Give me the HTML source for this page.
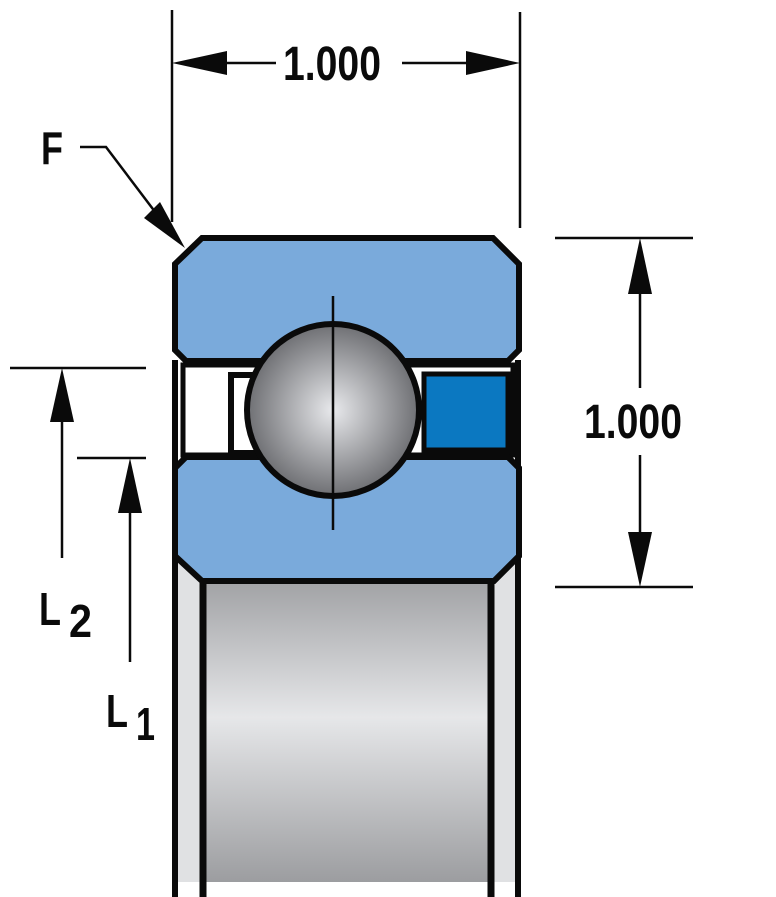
<!DOCTYPE html>
<html><head><meta charset="utf-8"><style>html,body{margin:0;padding:0;background:#fff}svg{display:block}</style></head>
<body>
<svg width="776" height="897" viewBox="0 0 776 897" xmlns="http://www.w3.org/2000/svg" font-family="Liberation Sans, sans-serif" font-weight="bold">
<defs>
<radialGradient id="ball" cx="0.5" cy="0.5" r="0.5">
<stop offset="0" stop-color="#e8e9ec"/><stop offset="1" stop-color="#6e6f73"/>
</radialGradient>
<linearGradient id="cyl" x1="0" y1="0" x2="0" y2="1">
<stop offset="0" stop-color="#a2a3a6"/><stop offset="0.45" stop-color="#e6e7e9"/><stop offset="1" stop-color="#9c9da0"/>
</linearGradient>
</defs>
<!-- side strips -->
<rect x="175" y="560" width="30" height="322" fill="#e0e1e3"/>
<rect x="491" y="560" width="30" height="322" fill="#e0e1e3"/>
<rect x="205" y="583" width="286" height="299" fill="url(#cyl)"/>
<!-- gap region -->
<rect x="175" y="358" width="346" height="100" fill="#fff" stroke="#0a0a0a" stroke-width="0"/>
<line x1="175" y1="360" x2="175" y2="897" stroke="#0a0a0a" stroke-width="6"/>
<line x1="518" y1="360" x2="518" y2="897" stroke="#0a0a0a" stroke-width="6"/>
<line x1="203" y1="583" x2="203" y2="897" stroke="#0a0a0a" stroke-width="7"/>
<line x1="491" y1="583" x2="491" y2="897" stroke="#0a0a0a" stroke-width="7"/>
<!-- inner white gap lines -->
<rect x="183" y="365" width="330" height="90" fill="#fff" stroke="#0a0a0a" stroke-width="5"/>
<!-- cage left -->
<rect x="231" y="375" width="30" height="78" fill="#fff" stroke="#0a0a0a" stroke-width="6"/>
<!-- seal -->
<rect x="424" y="374" width="84" height="76" fill="#0b78c1" stroke="#0a0a0a" stroke-width="5"/>
<!-- outer ring -->
<polygon points="202,238 493,238 519,264 519,350 508,361 186,361 175,350 175,264" fill="#7aaadb" stroke="#0a0a0a" stroke-width="6" stroke-linejoin="miter"/>
<!-- inner ring -->
<polygon points="186,457 508,457 519,468 519,556 494,581 202,581 175,556 175,468" fill="#7aaadb" stroke="#0a0a0a" stroke-width="6"/>
<!-- ball -->
<circle cx="333" cy="410" r="86" fill="url(#ball)" stroke="#0a0a0a" stroke-width="6"/>
<line x1="333" y1="296" x2="333" y2="530" stroke="#0a0a0a" stroke-width="2.5"/>
<!-- top dimension -->
<g stroke="#0a0a0a" stroke-width="2.5">
<line x1="172" y1="10" x2="172" y2="222"/>
<line x1="520" y1="12" x2="520" y2="228"/>
<line x1="226" y1="63" x2="276" y2="63"/>
<line x1="402" y1="63" x2="466" y2="63"/>
<line x1="555" y1="238" x2="693" y2="238"/>
<line x1="555" y1="587" x2="693" y2="587"/>
<line x1="640" y1="292" x2="640" y2="388"/>
<line x1="640" y1="455" x2="640" y2="533"/>
<line x1="10" y1="368" x2="146" y2="368"/>
<line x1="62" y1="420" x2="62" y2="558"/>
<line x1="77" y1="458" x2="146" y2="458"/>
<line x1="130" y1="510" x2="130" y2="662"/>
<polyline points="80,147 106,147 165,225" fill="none"/>
</g>
<g fill="#0a0a0a">
<polygon points="172,63 227,51 227,75"/>
<polygon points="520,63 466,51 466,75"/>
<polygon points="640,238 628,294 652,294"/>
<polygon points="640,587 628,532 652,532"/>
<polygon points="62,368 50,422 74,422"/>
<polygon points="130,458 118,513 142,513"/>
<polygon points="185,248 144,218 160,202"/>
</g>
<g fill="#0a0a0a">
<text x="283" y="80" font-size="48" textLength="98" lengthAdjust="spacingAndGlyphs">1.000</text>
<text x="584" y="438" font-size="48" textLength="98" lengthAdjust="spacingAndGlyphs">1.000</text>
<text x="41" y="164" font-size="46" textLength="22" lengthAdjust="spacingAndGlyphs">F</text>
<text x="39" y="625" font-size="46" textLength="22" lengthAdjust="spacingAndGlyphs">L</text>
<text x="69" y="637" font-size="46" textLength="23" lengthAdjust="spacingAndGlyphs">2</text>
<text x="106" y="727" font-size="46" textLength="22" lengthAdjust="spacingAndGlyphs">L</text>
<text x="136" y="740" font-size="46" textLength="19" lengthAdjust="spacingAndGlyphs">1</text>
</g>
</svg>
</body></html>
